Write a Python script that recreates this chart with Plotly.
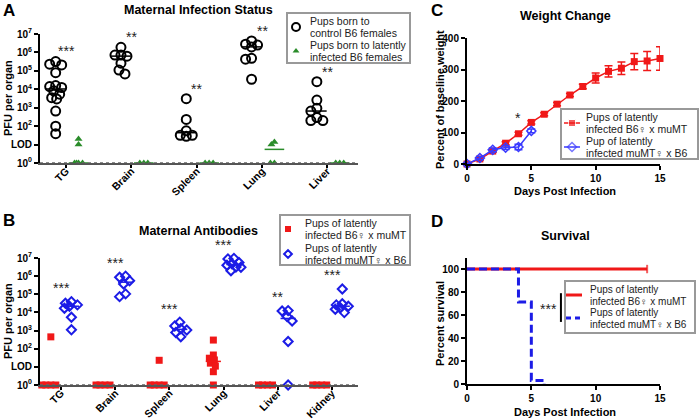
import numpy as np
import plotly.graph_objects as go

FONT = "Liberation Sans, Arial, DejaVu Sans, sans-serif"
RED = "#f01818"
BLUE = "#1c1ce6"
LBLUE = "#3a3aff"
GREEN = "#2a8c2a"
GREY = "#999999"

# Panel A: PFU per organ, value 1 = below detection
a_organs = ["TG", "Brain", "Spleen", "Lung", "Liver"]
a_control = [
    [3.2e5, 2.3e5, 2.1e5, 8e4, 1.6e4, 1.4e4, 1.25e4, 8.3e3, 5.4e3, 3.5e3, 3e3, 6.6e2, 1e2, 3.9e1],
    [1.9e6, 7.2e5, 7.2e5, 6.3e5, 2.6e5, 1.1e5, 6.8e4],
    [3.1e3, 2.3e2, 56, 32, 32, 28],
    [4.2e6, 2.8e6, 2.5e6, 2e6, 4.8e5, 4.3e5, 3.5e4],
    [2.6e4, 2.6e3, 9.3e2, 6.6e2, 2.9e2, 2e2, 2e2],
]
a_latent = [
    [20, 10, 1, 1, 1, 1],
    [1, 1, 1],
    [1, 1, 1],
    [14, 10, 1, 1],
    [1, 1, 1],
]
a_stars = ["***", "**", "**", "**", "**"]

# Panel B
b_organs = ["TG", "Brain", "Spleen", "Lung", "Liver", "Kidney"]
b_b6_mother = [
    [450, 1, 1, 1, 1],
    [1, 1, 1, 1],
    [23, 1, 1, 1, 1],
    [300, 45, 30, 24, 16, 11, 5.4, 1],
    [1, 1, 1, 1],
    [1, 1, 1, 1],
]
b_mumt_mother = [
    [3.9e4, 3.2e4, 2.6e4, 2.2e4, 1.7e4, 5.4e3, 1.1e3],
    [1e6, 8.7e5, 5.6e5, 3.7e5, 1.05e5, 7.4e4],
    [2.9e3, 1.8e3, 1.26e3, 1.07e3, 7.9e2, 4.6e2],
    [9.5e6, 8.9e6, 5.6e6, 4.8e6, 4e6, 3.2e6, 3.1e6, 2e6],
    [1.26e4, 1.2e4, 5.9e3, 3.4e3, 2.5e2, 1],
    [1.95e5, 3e4, 2.6e4, 2.2e4, 1.8e4, 1.5e4, 9.8e3],
]
b_stars = ["***", "***", "***", "***", "**", "***"]

# Panel C: weight change (% of baseline)
c_days_red = list(range(16))
c_weight_red = [0, 16, 41, 66, 96, 132, 158, 190, 219, 246, 273, 294, 304, 325, 327, 335]
c_err_red = [2, 3, 4, 5, 5, 5, 5, 5, 5, 7, 16, 18, 20, 26, 30, 37]
c_days_blue = [0, 1, 2, 3, 4, 5]
c_weight_blue = [0, 19, 45, 52, 54, 105]
c_err_blue = [2, 5, 6, 6, 9, 6]

# Panel D: survival (%)
d_days_red = [0, 14]
d_surv_red = [100, 100]
d_days_blue = [0, 4, 5, 6]
d_surv_blue = [100, 71.4, 3, 0]

LEG_B6 = ["Pups of latently", "infected B6\u2640 x muMT"]
LEG_MUMT = ["Pups of latently", "infected muMT\u2640 x B6"]


def swarm(groups, shift, px_cat, px_dec, gap, max_off, step=1.0):
    # spread tied points sideways a little, like a column scatter
    xs, ys = [], []
    n = int(max_off / step)
    cands = [0.0] + [s * k * step for k in range(1, n + 1) for s in (-1, 1)]
    for i, vals in enumerate(groups):
        placed = []
        for v in vals:
            py = np.log10(v) * px_dec
            best, best_d = 0.0, -1.0
            for off in cands:
                d = min([np.hypot(off - qx, py - qy) for qx, qy in placed] or [1e9])
                if d >= gap:
                    best = off
                    break
                if d > best_d:
                    best, best_d = off, d
            placed.append((best, py))
            xs.append(i + shift + best / px_cat)
            ys.append(v)
    return xs, ys


def medians(groups, shift, half):
    xs, ys = [], []
    for i, vals in enumerate(groups):
        m = float(np.median(vals))
        xs += [i + shift - half, i + shift + half, None]
        ys += [m, m, None]
    return xs, ys


fig = go.Figure()

# ---- Panel A
x, y = swarm(a_control, -0.16, 65.3, 18.4, 7, 6)
fig.add_trace(go.Scatter(x=x, y=y, mode="markers",
                         marker=dict(symbol="circle-open", size=9, color="black", line=dict(width=2)),
                         cliponaxis=False, xaxis="x", yaxis="y"))
x, y = swarm(a_latent, 0.19, 65.3, 18.4, 4, 6)
fig.add_trace(go.Scatter(x=x, y=y, mode="markers",
                         marker=dict(symbol="triangle-up", size=7, color=GREEN),
                         cliponaxis=False, xaxis="x", yaxis="y"))
x, y = medians(a_control, -0.16, 0.15)
fig.add_trace(go.Scatter(x=x, y=y, mode="lines", line=dict(color="black", width=1.5),
                         xaxis="x", yaxis="y"))
x, y = medians(a_latent, 0.19, 0.15)
fig.add_trace(go.Scatter(x=x, y=y, mode="lines", line=dict(color=GREEN, width=1.5),
                         xaxis="x", yaxis="y"))

# ---- Panel B
x, y = swarm(b_b6_mother, -0.19, 54.2, 18.14, 5, 9)
fig.add_trace(go.Scatter(x=x, y=y, mode="markers",
                         marker=dict(symbol="square", size=7, color=RED),
                         cliponaxis=False, xaxis="x2", yaxis="y2"))
x, y = swarm(b_mumt_mother, 0.19, 54.2, 18.14, 6, 7)
fig.add_trace(go.Scatter(x=x, y=y, mode="markers",
                         marker=dict(symbol="diamond-open", size=7, color=BLUE, line=dict(width=2)),
                         cliponaxis=False, xaxis="x2", yaxis="y2"))
x, y = medians(b_b6_mother, -0.19, 0.14)
fig.add_trace(go.Scatter(x=x, y=y, mode="lines", line=dict(color=RED, width=1.5),
                         xaxis="x2", yaxis="y2"))
x, y = medians(b_mumt_mother, 0.19, 0.14)
fig.add_trace(go.Scatter(x=x, y=y, mode="lines", line=dict(color=BLUE, width=1.5),
                         xaxis="x2", yaxis="y2"))

# ---- Panel C
fig.add_trace(go.Scatter(x=c_days_red, y=c_weight_red, mode="lines+markers",
                         line=dict(color=RED, width=1.5),
                         marker=dict(symbol="square", size=7, color=RED),
                         error_y=dict(type="data", array=c_err_red, color=RED, thickness=1.5, width=4),
                         cliponaxis=False, xaxis="x3", yaxis="y3"))
fig.add_trace(go.Scatter(x=c_days_blue, y=c_weight_blue, mode="lines+markers",
                         line=dict(color=LBLUE, width=1.5),
                         marker=dict(symbol="diamond-open", size=7, color=LBLUE, line=dict(width=1.5)),
                         error_y=dict(type="data", array=c_err_blue, color=LBLUE, thickness=1.5, width=4),
                         cliponaxis=False, xaxis="x3", yaxis="y3"))

# ---- Panel D
fig.add_trace(go.Scatter(x=d_days_red, y=d_surv_red, mode="lines+markers",
                         line=dict(color=RED, width=3, shape="hv"),
                         marker=dict(symbol="line-ns", size=[0, 6], color=RED, line=dict(width=2, color=RED)),
                         cliponaxis=False, xaxis="x4", yaxis="y4"))
fig.add_trace(go.Scatter(x=d_days_blue, y=d_surv_blue, mode="lines",
                         line=dict(color=BLUE, width=3, dash="8px,4px", shape="hv"),
                         cliponaxis=False, xaxis="x4", yaxis="y4"))

# ---- legend boxes (drawn by hand on a pixel overlay so they stay compact)
legends = [
    dict(box=(287, 13, 410, 63), key_x=296, text_x=308, size=10.5, entries=[
        (27, ["Pups born to", "control B6 females"],
         dict(mode="markers", marker=dict(symbol="circle-open", size=8, color="black", line=dict(width=2)))),
        (51, ["Pups born to latently", "infected B6 females"],
         dict(mode="markers", marker=dict(symbol="triangle-up", size=6, color=GREEN))),
    ]),
    dict(box=(280, 215, 410, 265), key_x=288, text_x=303, size=10.5, entries=[
        (229, LEG_B6, dict(mode="markers", marker=dict(symbol="square", size=6, color=RED))),
        (254, LEG_MUMT, dict(mode="markers", marker=dict(symbol="diamond-open", size=6, color=BLUE,
                                                            line=dict(width=2)))),
    ]),
    dict(box=(561, 109, 698, 159), key_x=572, text_x=584, size=10.5, entries=[
        (123, LEG_B6, dict(mode="lines+markers", line=dict(color=RED, width=1.5),
                           marker=dict(symbol="square", size=[0, 7, 0], color=RED))),
        (147, ["Pup of latently", "infected muMT\u2640 x B6"],
         dict(mode="lines+markers", line=dict(color=LBLUE, width=1.5),
              marker=dict(symbol="diamond-open", size=[0, 7, 0], color=LBLUE, line=dict(width=1.5)))),
    ]),
    dict(box=(565, 281, 695, 333), key_x=574, text_x=588, size=10, entries=[
        (295, LEG_B6, dict(mode="lines", line=dict(color=RED, width=3))),
        (318, LEG_MUMT, dict(mode="lines", line=dict(color=BLUE, width=3, dash="5px,4px"))),
    ]),
]
for leg in legends:
    x0, y0, x1, y1 = leg["box"]
    fig.add_shape(type="rect", xref="x5", yref="y5", x0=x0, y0=y0, x1=x1, y1=y1,
                  line=dict(color=GREY, width=2), fillcolor="rgba(255,255,255,0)", layer="above")
    for yc, lines, style in leg["entries"]:
        kx = leg["key_x"]
        if style["mode"] == "markers":
            kxs, kys = [kx], [yc]
        else:
            kxs, kys = [kx - 8, kx, kx + 8], [yc, yc, yc]
        fig.add_trace(go.Scatter(x=kxs, y=kys, xaxis="x5", yaxis="y5", cliponaxis=False, **style))
        for j, line in enumerate(lines):
            fig.add_annotation(x=leg["text_x"], y=yc + (j - 0.5) * 12, xref="x5", yref="y5",
                               text=line, showarrow=False, xanchor="left", yanchor="middle",
                               font=dict(family=FONT, size=leg["size"], color="#222222"))

tick_font = dict(family=FONT, size=10, color="black", weight="bold")
common = dict(showline=True, linecolor="black", linewidth=2, ticks="outside", ticklen=4,
              tickwidth=1.5, tickcolor="black", showgrid=False, zeroline=False, tickfont=tick_font,
              automargin=False)

log_ticks = [1, 10, 1e2, 1e3, 1e4, 1e5, 1e6, 1e7]
log_text = ["10<sup>0</sup>", "LOD"] + ["10<sup>%d</sup>" % k for k in range(2, 8)]


def cat_axis(domain, rng, labels, anchor):
    d = dict(common)
    d.update(domain=domain, range=rng, tickvals=list(range(len(labels))), ticktext=labels,
             tickangle=-45, linecolor="#555555", ticklen=3, anchor=anchor, ticklabelstandoff=-7,
             tickfont=dict(family=FONT, size=10.5, color="black", weight="bold"))
    return d


def log_axis(domain, anchor):
    d = dict(common)
    d.update(domain=domain, type="log", range=[0, 7], tickvals=log_ticks, ticktext=log_text,
             anchor=anchor)
    return d


def lin_axis(domain, rng, ticks, anchor):
    d = dict(common)
    d.update(domain=domain, range=rng, tickvals=ticks, anchor=anchor)
    return d


fig.update_layout(
    width=700, height=420, margin=dict(l=0, r=0, t=0, b=0, autoexpand=False),
    plot_bgcolor="rgba(0,0,0,0)", paper_bgcolor="white",
    font=dict(family=FONT, color="black"),
    showlegend=False, hovermode=False,
    xaxis=cat_axis([40 / 700, 358 / 700], [-0.4, 4.47], a_organs, "y"),
    yaxis=log_axis([1 - 163 / 420, 1 - 34 / 420], "x"),
    xaxis2=cat_axis([40 / 700, 358 / 700], [-0.39, 5.48], b_organs, "y2"),
    yaxis2=log_axis([1 - 385 / 420, 1 - 258 / 420], "x2"),
    xaxis3=lin_axis([467 / 700, 660 / 700], [0, 15], [0, 5, 10, 15], "y3"),
    yaxis3=lin_axis([1 - 164 / 420, 1 - 38 / 420], [0, 400], [0, 100, 200, 300, 400], "x3"),
    xaxis4=lin_axis([467 / 700, 660 / 700], [0, 15], [0, 5, 10, 15], "y4"),
    yaxis4=lin_axis([1 - 384 / 420, 1 - 258 / 420], [0, 109.6], [0, 20, 40, 60, 80, 100], "x4"),
    xaxis5=dict(domain=[0, 1], range=[0, 700], visible=False, anchor="y5"),
    yaxis5=dict(domain=[0, 1], range=[420, 0], visible=False, anchor="x5"),
)

# LOD dotted lines (y given as log10 on log axes)
for yref in ["y", "y2"]:
    fig.add_shape(type="line", xref=yref.replace("y", "x") + " domain", yref=yref,
                  x0=0, x1=1, y0=1, y1=1, line=dict(color="#666666", width=1.5, dash="dot"))


def add_stars(groups, stars, lift, xref, yref, px_dec):
    # annotations outside the axis range are hidden, so clamp and shift in pixels
    for i, s in enumerate(stars):
        ylog = np.log10(max(groups[i])) + lift
        yy = min(ylog, 7.0)
        fig.add_annotation(x=i, y=yy, yshift=(ylog - yy) * px_dec, xref=xref, yref=yref,
                           text=s, showarrow=False, font=dict(size=14, color="#222222"))


add_stars(a_control, a_stars, 0.55, "x", "y", 18.4)
add_stars(b_mumt_mother, b_stars, 0.75, "x2", "y2", 18.14)
fig.add_annotation(x=4, y=c_weight_red[4] + 50, xref="x3", yref="y3", text="*",
                   showarrow=False, font=dict(size=14, color="#222222"))
fig.add_annotation(x=6.3, y=65, xref="x4", yref="y4", text="***",
                   showarrow=False, font=dict(size=14, color="#222222"))
fig.add_shape(type="line", xref="x4", yref="y4", x0=7.3, x1=7.3, y0=54, y1=79,
              line=dict(color="black", width=2))

# titles, panel letters, axis titles
texts = [
    ("A", 9, 10, 17, 0), ("B", 9, 220, 17, 0), ("C", 437, 10, 17, 0), ("D", 437, 221, 17, 0),
    ("Maternal Infection Status", 198, 10, 12.5, 0), ("Maternal Antibodies", 198, 231, 12.5, 0),
    ("Weight Change", 565, 16, 12.5, 0), ("Survival", 565, 236, 12.5, 0),
    ("PFU per organ", 8, 98, 11, -90), ("PFU per organ", 8, 321, 11, -90),
    ("Percent of baseline weight", 440, 100, 11, -90), ("Percent survival", 440, 324, 11, -90),
    ("Days Post Infection", 565, 191, 11, 0), ("Days Post Infection", 565, 412, 11, 0),
]
for t, px, py, size, ang in texts:
    fig.add_annotation(x=px / 700, y=1 - py / 420, xref="paper", yref="paper", text=t,
                       showarrow=False, textangle=ang, xanchor="center", yanchor="middle",
                       font=dict(family=FONT, size=size, color="black", weight="bold"))

fig.write_html("out.html", config={"displayModeBar": False},
               post_script="document.body.style.margin='0';")
